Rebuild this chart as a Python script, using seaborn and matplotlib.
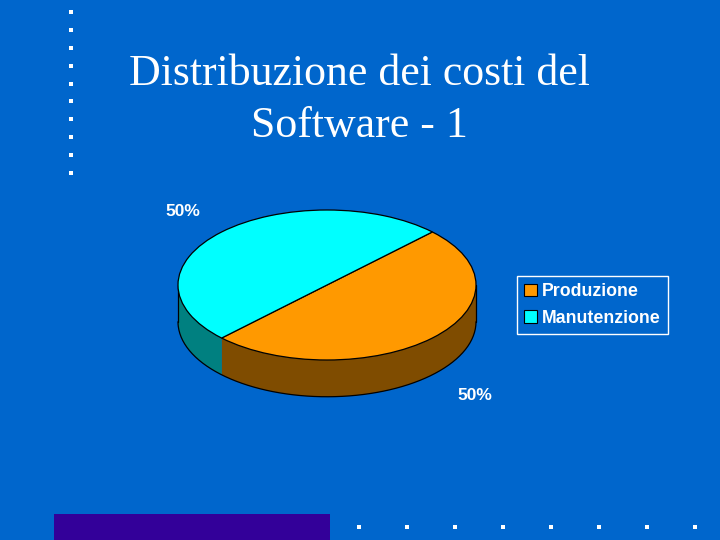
import numpy as np
import matplotlib
matplotlib.use("Agg")
import matplotlib.pyplot as plt
import seaborn as sns
from matplotlib.patches import Patch, Polygon, Rectangle

# ---- data ----
title = "Distribuzione dei costi del\nSoftware - 1"
categories = ["Produzione", "Manutenzione"]
values = [50, 50]
pct_labels = ["50%", "50%"]
top_colors = ["#FF9900", "#00FFFF"]
side_colors = ["#7F4C00", "#008080"]

BG = "#0066CC"
sns.set_theme(style="white")
plt.rcParams["font.family"] = ["Liberation Sans", "DejaVu Sans"]
palette = sns.color_palette(top_colors)
side_palette = sns.color_palette(side_colors)

fig = plt.figure(figsize=(7.2, 5.4), dpi=100, facecolor=BG)

# decoration layer (pixel coordinates)
deco = fig.add_axes([0, 0, 1, 1])
deco.set_xlim(0, 720)
deco.set_ylim(540, 0)
deco.axis("off")
deco.set_facecolor(BG)
deco.add_patch(Rectangle((54, 514), 276, 30, facecolor="#330099", edgecolor="none"))
ys = np.linspace(12, 173, 10)
deco.scatter(np.full_like(ys, 71), ys, marker="s", s=12, color="white", linewidths=0)
xs = 359 + 48 * np.arange(8)
deco.scatter(xs, np.full_like(xs, 527.0), marker="s", s=12, color="white", linewidths=0)

# title
fig.text(0.499, 0.8146, title, ha="center", va="center", multialignment="center",
         color="white", fontsize=31.6, family=["Liberation Serif", "DejaVu Serif"],
         linespacing=1.38)

# ---- 3D-like pie ----
ax = fig.add_axes([148.2 / 720, 1 - 420 / 540, 357.6 / 720, 225 / 540])
ax.set_facecolor("none")
depth = 0.49
start = 225.0
total = float(sum(values))
theta0 = start
for v, sc in zip(values, side_palette):
    theta1 = theta0 + 360.0 * v / total
    for k in (-1, 0, 1):
        lo = max(theta0, 180 + 360 * k)
        hi = min(theta1, 360 + 360 * k)
        if hi > lo:
            t = np.radians(np.linspace(lo, hi, 100))
            top = np.column_stack([np.cos(t), np.sin(t)])
            bot = np.column_stack([np.cos(t[::-1]), np.sin(t[::-1]) - depth])
            ax.add_patch(Polygon(np.vstack([top, bot]), closed=True,
                                 facecolor=sc, edgecolor="none", zorder=1))
    theta0 = theta1
tt = np.radians(np.linspace(180, 360, 200))
ax.plot(np.cos(tt), np.sin(tt) - depth, color="black", lw=0.9, zorder=2)
ax.plot([-1, -1], [0, -depth], color="black", lw=0.9, zorder=2)
ax.plot([1, 1], [0, -depth], color="black", lw=0.9, zorder=2)

wedges, _ = ax.pie(values, colors=palette, startangle=start, counterclock=True,
                   radius=1, center=(0, 0),
                   wedgeprops=dict(edgecolor="black", linewidth=0.9, zorder=3))
for w in wedges:
    w.set_zorder(3)
ax.set_aspect("auto")
ax.set_xlim(-1.2, 1.2)
ax.set_ylim(-1.8, 1.2)
ax.axis("off")

ax.text(-0.97, 0.98, pct_labels[1], color="white", fontsize=12.5, fontweight="bold",
        ha="center", va="center")
ax.text(0.99, -1.47, pct_labels[0], color="white", fontsize=12.5, fontweight="bold",
        ha="center", va="center")

handles = [Patch(facecolor=c, edgecolor="black", linewidth=0.8) for c in palette]
leg = fig.legend(handles, categories, loc="upper left",
                 bbox_to_anchor=(517 / 720, 1 - 276 / 540),
                 frameon=True, fancybox=False, facecolor=BG, edgecolor="white",
                 framealpha=1, fontsize=12.8, handlelength=0.7, handleheight=0.7,
                 handletextpad=0.3, borderpad=0.4, labelspacing=0.55,
                 borderaxespad=0)
leg.get_frame().set_linewidth(1.0)
for txt in leg.get_texts():
    txt.set_color("white")
    txt.set_fontweight("bold")

fig.savefig("out.png", dpi=100, facecolor=BG)
